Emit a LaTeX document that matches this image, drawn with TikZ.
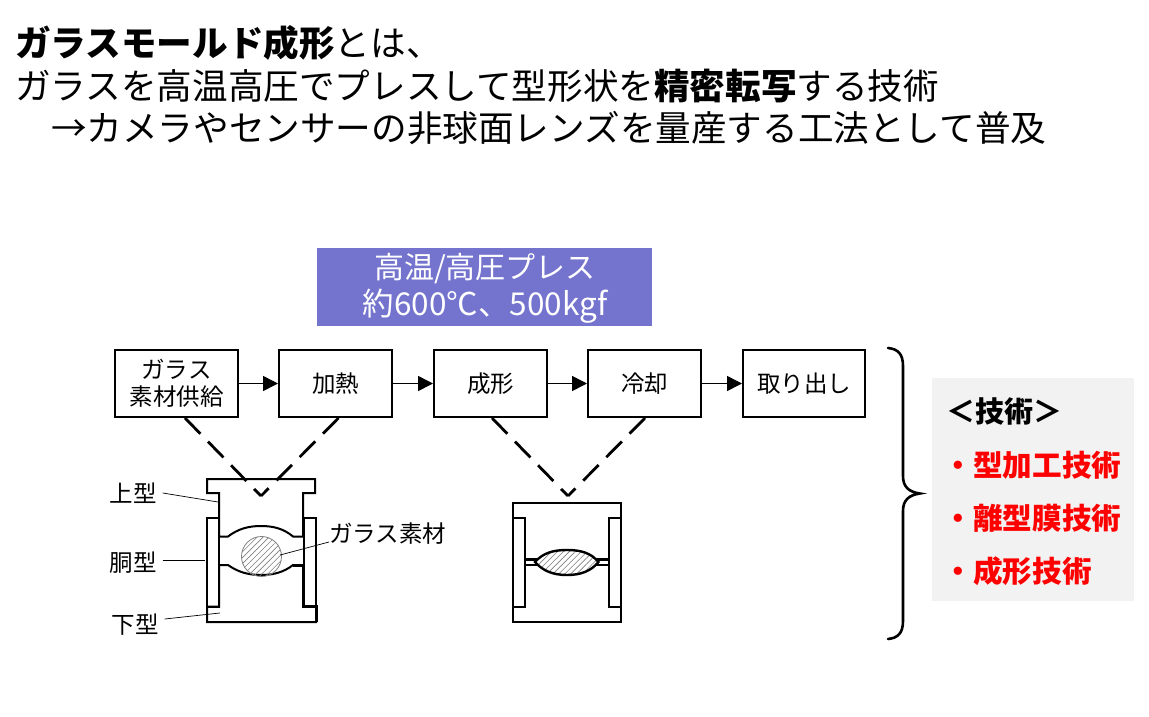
\documentclass[tikz,border=0pt]{standalone}
\usepackage{fontspec}
\setmainfont{Noto Sans CJK JP}
\usetikzlibrary{arrows.meta, patterns.meta}
\definecolor{bannerblue}{HTML}{7474CE}
\definecolor{panelgray}{HTML}{F2F2F2}
\newcommand{\fsize}[1]{\fontsize{#1}{#1}\selectfont}
\tikzset{
	titleline/.style={anchor=west, inner sep=0pt, font=\fsize{35.6}},
	stepbox/.style={draw, line width=2pt, minimum height=67pt, inner sep=0pt, align=center, font=\fsize{23.5}},
	steparrow/.style={line width=1.6pt, -{Triangle[length=15pt,width=15pt]}},
	vdash/.style={line width=2.8pt, dash pattern=on 22pt off 11pt},
	partlabel/.style={inner sep=0pt, font=\fsize{23.5}},
	leader/.style={line width=0.7pt},
	moldline/.style={line width=2pt},
	techline/.style={anchor=west, inner sep=0pt, font=\fsize{29.6}\bfseries},
	glasspat/.style={pattern={Lines[angle=45,distance=4.2pt,line width=0.6pt]}, pattern color=gray}
}
\begin{document}
\begin{tikzpicture}[x=1pt,y=-1pt]
	\useasboundingbox (0,0) rectangle (1149,717);
	% heading
	\node[titleline] (headone) at (15,43) {\textbf{ガラスモールド成形}とは、};
	\node[titleline] (headtwo) at (15,86) {ガラスを高温高圧でプレスして型形状を\textbf{精密転写}する技術};
	\node[titleline] (headthree) at (51,128) {→カメラやセンサーの非球面レンズを量産する工法として普及};
	% press conditions
	\node[fill=bannerblue, minimum width=335pt, minimum height=78pt] (banner) at (484.5,287) {};
	\node[text=white, inner sep=0pt, font=\fsize{30}] (bannerone) at (485,268.5) {高温/高圧プレス};
	\node[text=white, inner sep=0pt, font=\fsize{31.5}] (bannertwo) at (485,306) {約600℃、500kgf};
	% process flow
	\node[stepbox, minimum width=123pt] (supply) at (176.5,383.5) {ガラス\\[3pt]素材供給};
	\node[stepbox, minimum width=113pt] (heat) at (335.5,383.5) {加熱};
	\node[stepbox, minimum width=113pt] (form) at (490.5,383.5) {成形};
	\node[stepbox, minimum width=113pt] (cool) at (644.5,383.5) {冷却};
	\node[stepbox, minimum width=122pt] (takeout) at (804,383.5) {取り出し};
	\draw[steparrow] (supply) -- (heat);
	\draw[steparrow] (heat) -- (form);
	\draw[steparrow] (form) -- (cool);
	\draw[steparrow] (cool) -- (takeout);
	% zoom lines down to the molds
	\coordinate (tipa) at (261,496);
	\coordinate (tipb) at (568,496);
	\draw[vdash] (supply.south -| 185,0) -- (tipa);
	\draw[vdash] (heat.south -| 338.5,0) -- (tipa);
	\draw[vdash] (form.south -| 492,0) -- (tipb);
	\draw[vdash] (cool.south -| 645,0) -- (tipb);
	% mold before pressing
	\draw[moldline] (207,479) -- (315,479) -- (315,493) -- (303,493) -- (303,536.5) -- (293,536.5)
		.. controls (284,529) and (274,526) .. (261,526) .. controls (248,526) and (238,529) .. (228,536.5)
		-- (219,536.5) -- (219,493) -- (207,493) -- cycle;
	\draw[moldline] (207,518) rectangle (219,606.5);
	\draw[moldline] (303.5,518) rectangle (315.5,606.5);
	\draw[moldline] (207,606.5) -- (207,622) -- (316,622) -- (316,606.5) -- (303.5,606.5) -- (303.5,565) -- (293,565)
		.. controls (284,572) and (274,575) .. (261,575) .. controls (248,575) and (238,572) .. (228,565)
		-- (219,565) -- (219,606.5) -- cycle;
	\draw[line width=3pt] (293,565) -- (303.5,565) -- (303.5,606.5) -- (316,606.5) -- (316,622);
	\draw[gray, line width=0.8pt, glasspat] (261.5,556.5) circle (20pt);
	\coordinate (upperend) at (218,502);
	\coordinate (bodyend) at (205,560);
	\coordinate (lowerend) at (220,613);
	\coordinate (glassend) at (280,555);
	\node[partlabel] (upperlabel) at (133,493) {上型};
	\node[partlabel] (bodylabel) at (133,563) {胴型};
	\node[partlabel] (lowerlabel) at (135,625) {下型};
	\node[partlabel, anchor=west] (glasslabel) at (329,534) {ガラス素材};
	\draw[leader] ([xshift=6pt]upperlabel.east) -- (upperend);
	\draw[leader] ([xshift=6pt,yshift=3pt]bodylabel.east) -- (bodyend);
	\draw[leader] ([xshift=6pt,yshift=6pt]lowerlabel.east) -- (lowerend);
	\draw[leader] ([yshift=-8pt]glasslabel.west) -- (glassend);
	% mold after pressing
	\draw[line width=2.6pt] (513,503) rectangle (621,622);
	\draw[line width=2.6pt] (513,518) rectangle (525,607);
	\draw[line width=2.6pt] (609,518) rectangle (621,607);
	\draw[line width=2.2pt, fill=white] (525,559.5) rectangle (609,565);
	\draw[line width=2.4pt, glasspat, preaction={fill=white}] (535,562) .. controls (543,553) and (553,550) .. (567,550)
		.. controls (581,550) and (591,553) .. (598.5,562) .. controls (591,571) and (581,575) .. (567,575)
		.. controls (553,575) and (543,571) .. (535,562) -- cycle;
	% brace and technology panel
	\draw[line width=2.6pt, line cap=round] (888,348) .. controls (898,349) and (903,354) .. (903,366)
		-- (903,476) .. controls (903,487) and (909,492) .. (920,493.5)
		.. controls (909,495) and (903,500) .. (903,511)
		-- (903,621) .. controls (903,633) and (898,638) .. (888,639);
	\node[fill=panelgray, minimum width=202pt, minimum height=223pt, inner sep=0pt] (panel) at (1033,489.5) {};
	\node[techline, font=\fsize{29}\bfseries] (techhead) at (946,411) {＜技術＞};
	\node[techline, text=red] (techone) at (943.5,465) {・型加工技術};
	\node[techline, text=red] (techtwo) at (943.5,518) {・離型膜技術};
	\node[techline, text=red] (techthree) at (943.5,571) {・成形技術};
\end{tikzpicture}
\end{document}
